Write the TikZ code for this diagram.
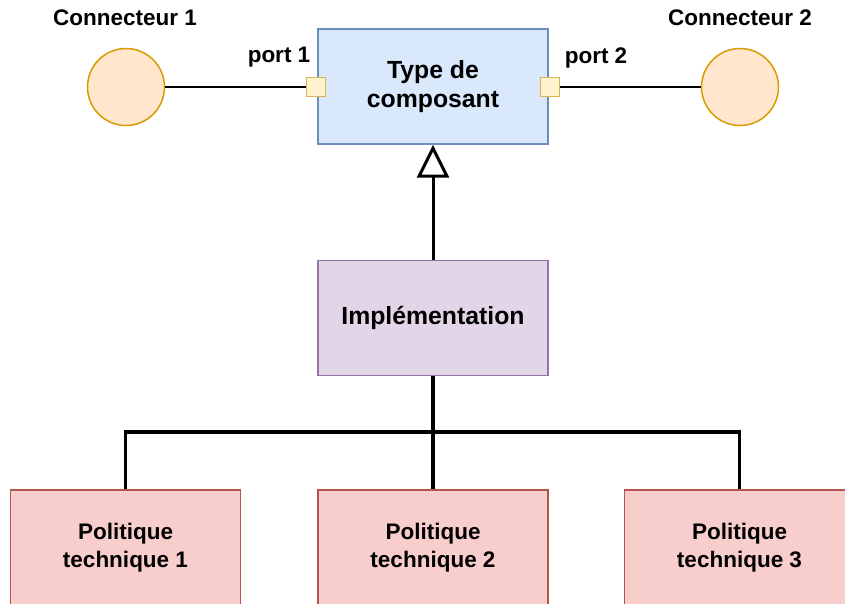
\documentclass[tikz,border=0pt]{standalone}
\usepackage{fontspec}
\setmainfont{Liberation Sans}
\usetikzlibrary{arrows.meta}

\definecolor{bluefill}{HTML}{DAE8FC}
\definecolor{bluedraw}{HTML}{6C8EBF}
\definecolor{yelfill}{HTML}{FFF2CC}
\definecolor{yeldraw}{HTML}{D6B656}
\definecolor{orafill}{HTML}{FFE6CC}
\definecolor{oradraw}{HTML}{D79B00}
\definecolor{purfill}{HTML}{E1D5E7}
\definecolor{purdraw}{HTML}{9673A6}
\definecolor{redfill}{HTML}{F8CECC}
\definecolor{reddraw}{HTML}{B85450}

\tikzset{txt/.style = {font=\fontsize{22.5}{28}\selectfont\bfseries,
                       align=center,
                       inner sep=0pt},
         bigtxt/.style = {font=\fontsize{24.8}{29}\selectfont\bfseries},
         cbox/.style = {shape = rectangle,
                        txt,
                        line width=1.5pt,
                        minimum width=230pt,
                        minimum height=115pt},
         typebox/.style = {cbox, bigtxt, fill=bluefill, draw=bluedraw},
         implbox/.style = {cbox, bigtxt, fill=purfill, draw=purdraw},
         polbox/.style = {cbox, fill=redfill, draw=reddraw},
         portbox/.style = {shape = rectangle,
                           line width=1.5pt,
                           minimum size=19pt,
                           inner sep=0pt,
                           fill=yelfill,
                           draw=yeldraw},
         connnode/.style = {shape = circle,
                            line width=1.5pt,
                            minimum size=77pt,
                            inner sep=0pt,
                            fill=orafill,
                            draw=oradraw},
         tree/.style = {line width=3.5pt},
         link/.style = {line width=1.8pt}}

\begin{document}
\begin{tikzpicture}[x=1pt,y=-1pt]
		\useasboundingbox (0,0) rectangle (845,604);
		\node[typebox] (type) at (433,86.5) {Type de\\composant};
		\node[implbox] (impl) at (433,318) {Implémentation};
		\node[polbox] (pol1) at (125.5,547.5) {Politique\\technique 1};
		\node[polbox] (pol2) at (433,547.5) {Politique\\technique 2};
		\node[polbox] (pol3) at (739.5,547.5) {Politique\\technique 3};
		\node[connnode] (c1) at (126,87) {};
		\node[connnode] (c2) at (740,87) {};
		\node[txt] (c1lbl) at (125,18) {Connecteur 1};
		\node[txt] (c2lbl) at (740,18) {Connecteur 2};
		\node[txt] (p1lbl) at (279,57) {port 1};
		\node[txt] (p2lbl) at (596,58) {port 2};
		\path[link] (c1) edge (316,87);
		\path[link] (550,87) edge (c2);
		\node[portbox] (p1) at (316,87) {};
		\node[portbox] (p2) at (550,87) {};
		\draw[line width=3pt, -{Triangle[open,length=33pt,width=32pt,line width=3pt]}] (impl) -- (type);
		\coordinate (fork) at (433,432);
		\draw[tree] (impl) -- (pol2);
		\draw[tree] (pol1.north) |- (fork) -| (pol3.north);
	\end{tikzpicture}
\end{document}
